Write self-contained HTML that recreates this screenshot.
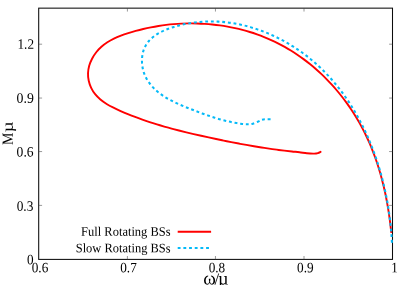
<!DOCTYPE html>
<html><head><meta charset="utf-8"><style>
html,body{margin:0;padding:0;background:#fff;}
svg{display:block;will-change:transform}
text{font-family:"Liberation Serif",serif;fill:#000}
</style></head><body>
<svg width="407" height="285" viewBox="0 0 407 285">
<rect width="407" height="285" fill="#fff"/>
<g stroke="#0c0c0c" stroke-width="1.05" fill="none">
<rect x="38.70" y="8.15" width="353.80" height="251.25"/>
<g stroke-width="0.55" stroke="#444"><line x1="127.40" y1="259.40" x2="127.40" y2="256.00"/><line x1="127.40" y1="8.15" x2="127.40" y2="11.55"/><line x1="215.45" y1="259.40" x2="215.45" y2="256.00"/><line x1="215.45" y1="8.15" x2="215.45" y2="11.55"/><line x1="304.00" y1="259.40" x2="304.00" y2="256.00"/><line x1="304.00" y1="8.15" x2="304.00" y2="11.55"/><line x1="38.70" y1="205.40" x2="42.10" y2="205.40"/><line x1="392.50" y1="205.40" x2="389.10" y2="205.40"/><line x1="38.70" y1="151.55" x2="42.10" y2="151.55"/><line x1="392.50" y1="151.55" x2="389.10" y2="151.55"/><line x1="38.70" y1="98.05" x2="42.10" y2="98.05"/><line x1="392.50" y1="98.05" x2="389.10" y2="98.05"/><line x1="38.70" y1="44.20" x2="42.10" y2="44.20"/><line x1="392.50" y1="44.20" x2="389.10" y2="44.20"/></g>
</g>
<path d="M391.22 232.15 C391.08 230.88 390.68 227.08 390.37 224.55 C390.07 222.02 389.74 219.49 389.38 216.96 C389.03 214.44 388.65 211.91 388.24 209.39 C387.83 206.87 387.40 204.35 386.93 201.84 C386.47 199.32 385.97 196.82 385.45 194.31 C384.93 191.81 384.38 189.32 383.79 186.83 C383.20 184.35 382.59 181.87 381.94 179.40 C381.29 176.93 380.61 174.47 379.89 172.02 C379.17 169.57 378.42 167.13 377.64 164.70 C376.85 162.27 376.03 159.86 375.17 157.46 C374.31 155.05 373.41 152.67 372.47 150.29 C371.54 147.92 370.56 145.56 369.55 143.22 C368.53 140.88 367.48 138.55 366.38 136.24 C365.28 133.94 364.15 131.64 362.96 129.37 C361.78 127.10 360.56 124.85 359.29 122.62 C358.03 120.39 356.72 118.18 355.37 115.99 C354.03 113.80 352.64 111.64 351.21 109.50 C349.78 107.36 348.31 105.25 346.81 103.16 C345.30 101.08 343.76 99.02 342.18 96.99 C340.60 94.96 338.98 92.96 337.32 90.99 C335.67 89.02 333.98 87.08 332.25 85.18 C330.53 83.28 328.76 81.40 326.97 79.57 C325.18 77.73 323.35 75.93 321.49 74.17 C319.63 72.41 317.73 70.68 315.81 69.00 C313.88 67.31 311.92 65.66 309.94 64.06 C307.95 62.45 305.93 60.89 303.88 59.37 C301.84 57.85 299.76 56.37 297.65 54.94 C295.55 53.51 293.42 52.12 291.26 50.79 C289.10 49.45 286.91 48.16 284.69 46.92 C282.48 45.68 280.24 44.49 277.98 43.35 C275.71 42.20 273.43 41.11 271.12 40.07 C268.81 39.03 266.47 38.04 264.12 37.09 C261.77 36.15 259.39 35.26 257.00 34.41 C254.61 33.57 252.20 32.77 249.77 32.03 C247.34 31.28 244.90 30.59 242.44 29.94 C239.98 29.29 237.51 28.69 235.02 28.14 C232.54 27.59 230.04 27.08 227.53 26.63 C225.02 26.18 222.50 25.77 219.97 25.41 C217.44 25.06 214.90 24.75 212.35 24.49 C209.80 24.22 207.25 24.01 204.69 23.85 C202.13 23.68 199.57 23.56 197.00 23.49 C194.43 23.42 191.86 23.40 189.29 23.42 C186.72 23.45 184.14 23.52 181.57 23.64 C179.00 23.76 176.42 23.93 173.85 24.14 C171.28 24.36 168.71 24.62 166.15 24.93 C163.59 25.23 161.03 25.59 158.47 25.99 C155.92 26.39 153.37 26.84 150.83 27.33 C148.29 27.83 145.76 28.37 143.24 28.96 C140.72 29.54 138.20 30.18 135.70 30.86 C133.21 31.54 130.71 32.25 128.24 33.04 C125.78 33.82 123.32 34.64 120.93 35.56 C118.54 36.49 116.18 37.47 113.92 38.59 C111.66 39.71 109.44 40.92 107.36 42.28 C105.28 43.65 103.27 45.12 101.42 46.79 C99.57 48.45 97.80 50.28 96.24 52.26 C94.68 54.25 93.23 56.45 92.06 58.72 C90.88 60.98 89.87 63.42 89.20 65.85 C88.52 68.28 88.09 70.83 88.02 73.32 C87.94 75.81 88.20 78.36 88.72 80.79 C89.25 83.22 90.10 85.64 91.17 87.88 C92.24 90.12 93.60 92.27 95.14 94.21 C96.68 96.15 98.48 97.90 100.40 99.52 C102.31 101.14 104.44 102.58 106.63 103.94 C108.81 105.30 111.16 106.52 113.50 107.70 C115.84 108.88 118.27 109.96 120.66 111.02 C123.06 112.09 125.47 113.11 127.88 114.10 C130.29 115.08 132.70 116.03 135.12 116.95 C137.53 117.87 139.95 118.75 142.37 119.61 C144.79 120.46 147.21 121.28 149.64 122.08 C152.06 122.88 154.49 123.64 156.93 124.39 C159.36 125.13 161.80 125.85 164.24 126.55 C166.68 127.25 169.12 127.93 171.57 128.59 C174.02 129.24 176.47 129.88 178.93 130.51 C181.39 131.13 183.85 131.74 186.31 132.33 C188.78 132.93 191.25 133.51 193.72 134.08 C196.20 134.66 198.68 135.22 201.16 135.77 C203.65 136.33 206.14 136.88 208.63 137.42 C211.13 137.96 213.63 138.50 216.13 139.03 C218.63 139.56 221.14 140.08 223.65 140.59 C226.16 141.10 228.68 141.61 231.19 142.10 C233.71 142.59 236.23 143.08 238.76 143.55 C241.28 144.02 243.80 144.48 246.33 144.93 C248.86 145.38 251.39 145.82 253.92 146.25 C256.45 146.67 258.98 147.08 261.51 147.48 C264.04 147.88 266.58 148.26 269.11 148.63 C271.64 148.99 274.18 149.35 276.71 149.68 C279.24 150.02 281.77 150.34 284.31 150.64 C286.84 150.94 289.37 151.23 291.90 151.49 C294.42 151.76 296.97 151.93 299.48 152.23 C301.98 152.53 304.45 153.07 306.90 153.30 C309.35 153.53 312.37 153.63 314.20 153.60 C316.03 153.57 316.83 153.40 317.90 153.10 C318.97 152.80 320.15 152.02 320.60 151.80" fill="none" stroke="#ff0000" stroke-width="1.9" stroke-linecap="round" stroke-linejoin="round"/>
<path d="M391.96 242.77 C391.89 241.68 391.72 238.43 391.57 236.25 C391.42 234.08 391.25 231.89 391.05 229.71 C390.85 227.52 390.63 225.33 390.39 223.14 C390.15 220.94 389.88 218.74 389.59 216.55 C389.30 214.35 388.99 212.15 388.65 209.95 C388.31 207.75 387.95 205.55 387.56 203.35 C387.18 201.15 386.77 198.95 386.34 196.75 C385.90 194.56 385.44 192.36 384.96 190.17 C384.48 187.98 383.97 185.79 383.44 183.61 C382.91 181.42 382.35 179.24 381.77 177.07 C381.19 174.90 380.58 172.73 379.95 170.57 C379.32 168.40 378.66 166.25 377.98 164.10 C377.30 161.96 376.59 159.82 375.86 157.69 C375.13 155.56 374.37 153.44 373.59 151.33 C372.80 149.22 371.99 147.12 371.15 145.03 C370.32 142.95 369.46 140.87 368.57 138.81 C367.68 136.74 366.76 134.69 365.82 132.66 C364.88 130.62 363.91 128.60 362.92 126.59 C361.92 124.58 360.90 122.59 359.85 120.62 C358.81 118.64 357.73 116.68 356.63 114.74 C355.53 112.80 354.40 110.88 353.24 108.97 C352.08 107.07 350.90 105.18 349.69 103.32 C348.47 101.45 347.24 99.61 345.97 97.78 C344.70 95.96 343.41 94.15 342.08 92.37 C340.76 90.59 339.41 88.84 338.03 87.10 C336.65 85.37 335.24 83.66 333.80 81.97 C332.37 80.29 330.90 78.62 329.41 76.99 C327.91 75.36 326.39 73.75 324.84 72.17 C323.29 70.59 321.71 69.03 320.10 67.51 C318.49 65.98 316.85 64.48 315.18 63.02 C313.51 61.55 311.81 60.11 310.09 58.70 C308.36 57.30 306.60 55.92 304.82 54.58 C303.03 53.24 301.22 51.92 299.38 50.65 C297.54 49.37 295.67 48.13 293.78 46.92 C291.89 45.72 289.97 44.54 288.04 43.41 C286.10 42.28 284.14 41.18 282.16 40.12 C280.17 39.06 278.17 38.04 276.15 37.06 C274.13 36.09 272.08 35.15 270.03 34.25 C267.97 33.35 265.89 32.50 263.80 31.69 C261.71 30.88 259.60 30.11 257.48 29.39 C255.36 28.67 253.22 27.99 251.08 27.36 C248.93 26.73 246.77 26.14 244.60 25.61 C242.43 25.08 240.25 24.59 238.06 24.15 C235.88 23.72 233.68 23.33 231.47 22.99 C229.27 22.66 227.06 22.37 224.85 22.14 C222.63 21.91 220.41 21.73 218.19 21.61 C215.96 21.49 213.74 21.42 211.51 21.41 C209.28 21.40 207.05 21.44 204.82 21.54 C202.59 21.65 200.36 21.81 198.14 22.03 C195.91 22.25 193.69 22.52 191.47 22.86 C189.25 23.20 187.03 23.60 184.82 24.07 C182.61 24.53 180.41 25.06 178.21 25.65 C176.01 26.24 173.81 26.89 171.65 27.62 C169.48 28.35 167.32 29.13 165.24 30.02 C163.17 30.91 161.12 31.88 159.21 32.96 C157.30 34.04 155.45 35.21 153.76 36.52 C152.08 37.83 150.50 39.24 149.12 40.80 C147.74 42.36 146.49 44.04 145.49 45.89 C144.48 47.73 143.66 49.75 143.09 51.87 C142.51 54.00 142.16 56.32 142.02 58.61 C141.89 60.90 141.97 63.32 142.27 65.63 C142.57 67.94 143.10 70.28 143.81 72.45 C144.52 74.63 145.48 76.72 146.56 78.68 C147.64 80.65 148.92 82.50 150.29 84.25 C151.66 85.99 153.17 87.62 154.75 89.15 C156.33 90.67 158.02 92.08 159.77 93.42 C161.52 94.76 163.35 95.99 165.23 97.16 C167.11 98.34 169.07 99.42 171.05 100.47 C173.03 101.51 175.07 102.48 177.12 103.42 C179.17 104.36 181.26 105.25 183.34 106.12 C185.43 106.99 187.53 107.82 189.63 108.65 C191.72 109.48 193.81 110.30 195.89 111.09 C197.98 111.89 200.06 112.68 202.14 113.43 C204.23 114.19 206.31 114.93 208.41 115.65 C210.50 116.36 212.60 117.04 214.71 117.70 C216.82 118.35 218.94 118.98 221.08 119.56 C223.22 120.15 225.37 120.70 227.54 121.21 C229.71 121.72 231.90 122.19 234.12 122.61 C236.33 123.03 238.74 123.47 240.84 123.74 C242.93 124.00 244.86 124.17 246.70 124.20 C248.54 124.23 250.05 124.32 251.90 123.90 C253.75 123.48 256.08 122.40 257.80 121.70 C259.52 121.00 260.73 120.12 262.20 119.70 C263.67 119.28 265.18 119.28 266.60 119.20 C268.02 119.12 270.02 119.20 270.70 119.20" fill="none" stroke="#04baf8" stroke-width="2.05" stroke-dasharray="2.85 2.83"/>
<line x1="177.7" y1="231.8" x2="211.1" y2="231.8" stroke="#ff0000" stroke-width="1.9"/>
<line x1="177.7" y1="247.9" x2="209.2" y2="247.9" stroke="#04baf8" stroke-width="2.05" stroke-dasharray="2.85 2.83"/>
<text transform="translate(31.75 272.15) matrix(1 0.002 0 1 0 0)" text-anchor="start" font-size="14.3" textLength="16.55" lengthAdjust="spacingAndGlyphs">0.6</text><text transform="translate(120.20 272.15) matrix(1 0.002 0 1 0 0)" text-anchor="start" font-size="14.3" textLength="16.55" lengthAdjust="spacingAndGlyphs">0.7</text><text transform="translate(208.65 272.15) matrix(1 0.002 0 1 0 0)" text-anchor="start" font-size="14.3" textLength="16.55" lengthAdjust="spacingAndGlyphs">0.8</text><text transform="translate(297.10 272.15) matrix(1 0.002 0 1 0 0)" text-anchor="start" font-size="14.3" textLength="16.55" lengthAdjust="spacingAndGlyphs">0.9</text><text transform="translate(391.35 272.15) matrix(1 0.002 0 1 0 0)" text-anchor="start" font-size="14.3" textLength="6.50" lengthAdjust="spacingAndGlyphs">1</text><text transform="translate(16.65 210.80) matrix(1 0.002 0 1 0 0)" text-anchor="start" font-size="14.3" textLength="16.70" lengthAdjust="spacingAndGlyphs">0.3</text><text transform="translate(16.60 156.50) matrix(1 0.002 0 1 0 0)" text-anchor="start" font-size="14.3" textLength="17.00" lengthAdjust="spacingAndGlyphs">0.6</text><text transform="translate(16.50 102.78) matrix(1 0.002 0 1 0 0)" text-anchor="start" font-size="14.3" textLength="17.30" lengthAdjust="spacingAndGlyphs">0.9</text><text transform="translate(17.48 48.80) matrix(1 0.002 0 1 0 0)" text-anchor="start" font-size="14.3" textLength="16.52" lengthAdjust="spacingAndGlyphs">1.2</text><text transform="translate(27.10 264.30) matrix(1 0.002 0 1 0 0)" text-anchor="start" font-size="14.3" textLength="6.60" lengthAdjust="spacingAndGlyphs">0</text><text transform="translate(81.10 235.70) matrix(1 0.002 0 1 0 0)" text-anchor="start" font-size="13" textLength="89.50" lengthAdjust="spacingAndGlyphs">Full Rotating BSs</text><text transform="translate(75.70 252.20) matrix(1 0.002 0 1 0 0)" text-anchor="start" font-size="13" textLength="94.90" lengthAdjust="spacingAndGlyphs">Slow Rotating BSs</text><text transform="translate(203.35 284.5) matrix(1 0.002 0 1 0 0)"><tspan x="0" font-size="19.2">ω</tspan><tspan x="11.25" font-size="16.6">/</tspan><tspan x="14.65" font-size="18.5" textLength="10.5" lengthAdjust="spacingAndGlyphs">µ</tspan></text><text transform="translate(12.75 144.88) rotate(-90) matrix(1 0.002 0 1 0 0)" font-size="15.5"><tspan x="0" textLength="12.48" lengthAdjust="spacingAndGlyphs">M</tspan><tspan x="12.74" textLength="10.8" lengthAdjust="spacingAndGlyphs">µ</tspan></text>
</svg>
</body></html>
